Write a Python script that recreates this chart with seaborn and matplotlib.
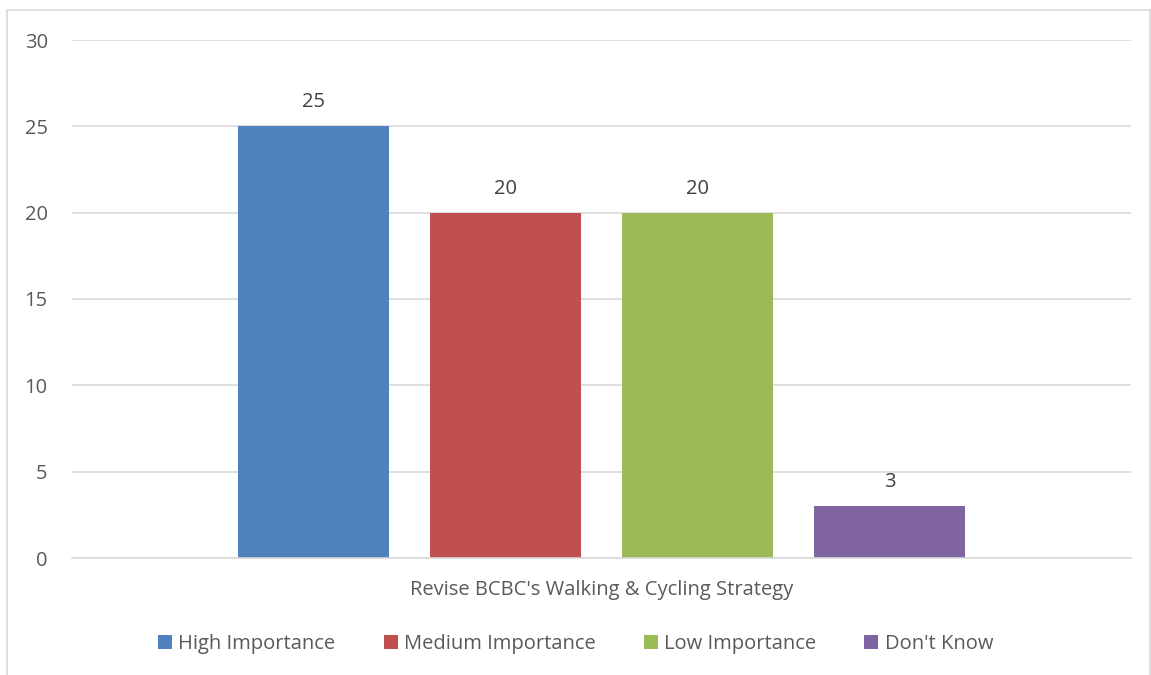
import pandas as pd
import seaborn as sns
import matplotlib.pyplot as plt
from matplotlib.patches import Rectangle

category = ["Revise BCBC's Walking & Cycling Strategy"]
series = ['High Importance', 'Medium Importance', 'Low Importance', "Don't Know"]
values = [25, 20, 20, 3]
colors = ['#4F81BD', '#C0504D', '#9BBB59', '#8064A2']

df = pd.DataFrame({'category': category * len(series), 'series': series, 'count': values})

sns.set_style('white')
plt.rcParams['font.family'] = ['Open Sans', 'DejaVu Sans']

fig = plt.figure(figsize=(11.51, 6.75), dpi=100)
ax = fig.add_axes([72/1151, 1-558/675, (1131-72)/1151, (558-40)/675])

sns.barplot(data=df, x='category', y='count', hue='series', palette=colors,
            width=0.725, gap=0.21, saturation=1, linewidth=0, ax=ax, legend=True)

ax.set_xlim(-0.5, 0.5)
ax.set_ylim(0, 30)
ax.set_yticks(range(0, 31, 5))
ax.yaxis.grid(True, color='#D9D9D9', linewidth=1.2)
ax.set_axisbelow(True)
for s in ['top', 'right', 'left']:
    ax.spines[s].set_visible(False)
ax.spines['bottom'].set_color('#D9D9D9')
ax.spines['bottom'].set_linewidth(1.2)
ax.tick_params(axis='both', length=0, labelsize=14.5, labelcolor='#595959')
ax.tick_params(axis='y', pad=17.5)
ax.tick_params(axis='x', pad=16)
ax.set_xlabel('')
ax.set_ylabel('')

for cont in ax.containers:
    ax.bar_label(cont, padding=10, fontsize=14.5, color='#404040')

ax.legend(loc='center', bbox_to_anchor=(0.5, 1-644/675), bbox_transform=fig.transFigure,
          ncol=4, frameon=False, fontsize=14.5, labelcolor='#595959',
          handlelength=0.7, handleheight=0.7, handletextpad=0.3, columnspacing=2.4)

fig.patches.append(Rectangle((7/1151, -0.01), (1150-7)/1151, 1-10/675+0.01,
                             transform=fig.transFigure, fill=False,
                             edgecolor='#D9D9D9', linewidth=1.2))

fig.savefig('out.png', dpi=100)
